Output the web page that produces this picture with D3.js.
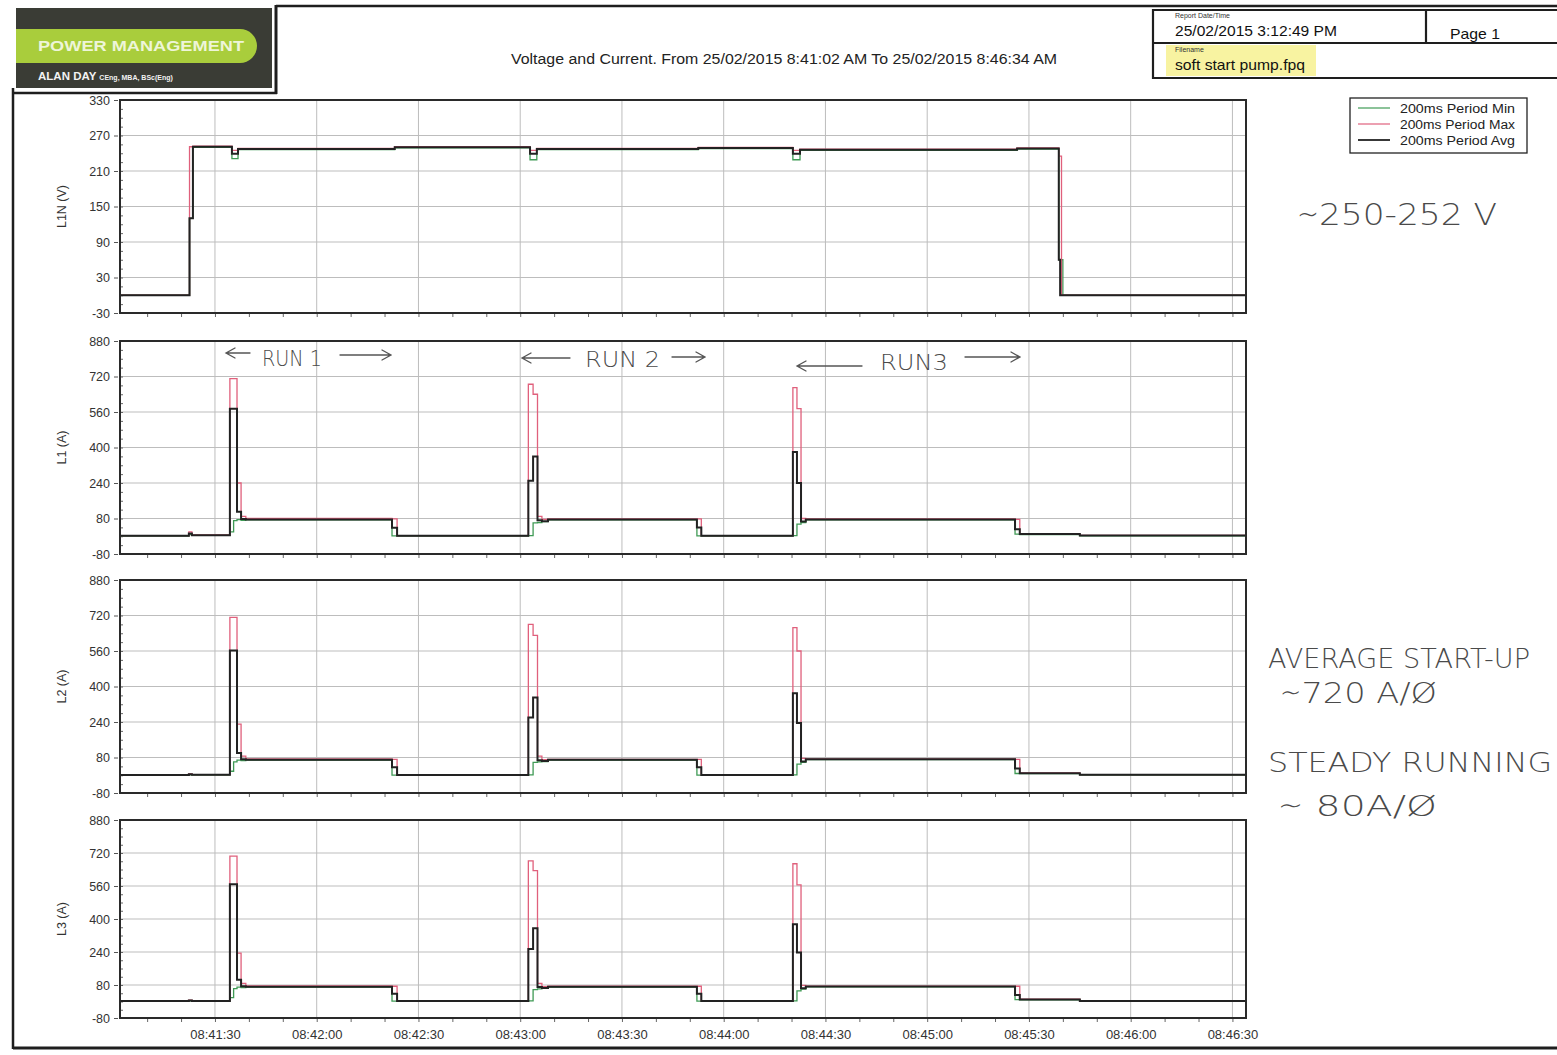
<!DOCTYPE html>
<html>
<head>
<meta charset="utf-8">
<script src="https://cdn.jsdelivr.net/npm/d3@7"></script>
<style>
  body { margin: 0; background: #fff; }
  svg { display: block; }
  text { font-family: "Liberation Sans", Arial, sans-serif; }
  .hand { font-family: "DejaVu Sans", sans-serif; font-weight: 200; fill: #4a4a4a; }
</style>
</head>
<body>
<svg id="chart" width="1557" height="1055"></svg>
<script>
// ---- data (seconds after 08:41:02) ----
var voltTimes = [0, 20.5, 21.5, 33.0, 34.8, 81.0, 120.9, 122.9, 170.5, 198.4, 200.5, 264.5, 276.8, 277.2, 277.6, 278.0, 332];
var voltAvg   = [0, 130, 251, 239, 247, 250, 239, 247, 249, 239, 246, 248, 60, 0, 0, 0, 0];
var voltMax   = [0, 251, 252, 245, 248, 251, 245, 248, 250, 245, 247, 249, 235, 235, 0, 0, 0];
var voltMin   = [0, 130, 250, 231, 246, 249, 229, 246, 248, 229, 245, 247, 60, 60, 60, 0, 0];

var ampTimes = [0, 20.3, 21.2, 32.4, 33.5, 34.5, 35.7, 37.1, 80.2, 81.7, 120.4, 121.8, 123.1, 124.4, 126.2, 170.1, 171.4, 198.4, 199.6, 200.8, 202.2, 263.9, 265.3, 283, 332];

var l1Avg = [2, 12, 5, 575, 575, 110, 78, 76, 38, 2, 250, 360, 72, 68, 76, 40, 2, 380, 240, 66, 76, 32, 10, 3, 3];
var l1Max = [3, 20, 6, 710, 710, 240, 90, 80, 78, 3, 685, 640, 90, 76, 78, 78, 3, 670, 575, 80, 78, 76, 12, 4, 4];
var l1Min = [1, 8, 4, 20, 70, 75, 72, 74, 2, 1, 3, 60, 62, 66, 74, 2, 1, 3, 55, 62, 74, 10, 8, 2, 2];

var l2Avg = [1, 4, 2, 562, 562, 100, 72, 70, 36, 1, 260, 350, 68, 64, 70, 36, 1, 370, 235, 62, 72, 30, 9, 2, 2];
var l2Max = [2, 6, 3, 712, 712, 230, 86, 74, 72, 2, 680, 630, 86, 70, 72, 72, 2, 665, 560, 76, 74, 72, 11, 3, 3];
var l2Min = [0, 2, 1, 18, 60, 68, 66, 68, 1, 0, 2, 58, 60, 62, 68, 1, 0, 2, 50, 58, 70, 8, 7, 1, 1];

var l3Avg = [2, 5, 3, 568, 568, 105, 74, 72, 38, 2, 255, 355, 70, 66, 72, 38, 2, 375, 238, 64, 73, 32, 10, 3, 3];
var l3Max = [3, 7, 4, 705, 705, 235, 88, 76, 74, 3, 682, 635, 88, 72, 74, 74, 3, 668, 565, 78, 75, 74, 12, 4, 4];
var l3Min = [1, 3, 2, 19, 62, 70, 68, 70, 2, 1, 3, 58, 61, 64, 70, 2, 1, 3, 52, 60, 71, 9, 8, 2, 2];

var voltTicks = [-30, 30, 90, 150, 210, 270, 330];
var ampTicks = [-80, 80, 240, 400, 560, 720, 880];
var seriesNames = ["200ms Period Min", "200ms Period Max", "200ms Period Avg"];

var T0 = new Date(2015, 1, 25, 8, 41, 2);
var T1 = new Date(2015, 1, 25, 8, 46, 34);

// ---- drawing ----
var svg = d3.select("#chart");
var colMin = "#3f9a55", colMax = "#e0607c", colAvg = "#222";

function toDate(s){
	return new Date(T0.getTime() + s * 1000);
}

var xScale = d3.scaleTime().domain([T0, T1]).range([120, 1246]);

var panels = [
	{ title: "L1N (V)", top: 100, bottom: 313, ticks: voltTicks, times: voltTimes, min: voltMin, max: voltMax, avg: voltAvg },
	{ title: "L1 (A)", top: 341, bottom: 554, ticks: ampTicks, times: ampTimes, min: l1Min, max: l1Max, avg: l1Avg },
	{ title: "L2 (A)", top: 580, bottom: 793, ticks: ampTicks, times: ampTimes, min: l2Min, max: l2Max, avg: l2Avg },
	{ title: "L3 (A)", top: 820, bottom: 1018, ticks: ampTicks, times: ampTimes, min: l3Min, max: l3Max, avg: l3Avg }
];

panels.forEach(function(p, i){
	var lo = p.ticks[0], hi = p.ticks[p.ticks.length - 1];
	var yScale = d3.scaleLinear().domain([lo, hi]).range([p.bottom, p.top]);
	var g = svg.append("g");

	// grid
	g.selectAll(".hg").data(p.ticks.slice(1, -1)).enter().append("line")
		.attr("x1", 120).attr("x2", 1246)
		.attr("y1", function(d){ return yScale(d); }).attr("y2", function(d){ return yScale(d); })
		.attr("stroke", "#bdbdbd").attr("stroke-width", 1);
	g.selectAll(".vg").data(xScale.ticks(d3.timeSecond.every(30))).enter().append("line")
		.attr("x1", function(d){ return xScale(d); }).attr("x2", function(d){ return xScale(d); })
		.attr("y1", p.top).attr("y2", p.bottom)
		.attr("stroke", "#bdbdbd").attr("stroke-width", 1);

	// minor ticks
	var step = (p.ticks[1] - p.ticks[0]) / 4;
	var minorY = d3.range(lo, hi + 0.1, step);
	g.append("g").attr("transform", "translate(120,0)")
		.call(d3.axisLeft(yScale).tickValues(minorY).tickSize(-3).tickFormat(""))
		.call(function(a){ a.select(".domain").remove(); a.selectAll("line").attr("stroke", "#666"); });
	g.append("g").attr("transform", "translate(0," + p.bottom + ")")
		.call(d3.axisBottom(xScale).ticks(d3.timeSecond.every(10)).tickSize(4).tickFormat(""))
		.call(function(a){ a.select(".domain").remove(); a.selectAll("line").attr("stroke", "#666"); });

	// y axis labels
	var yAxis = g.append("g").attr("transform", "translate(118,0)")
		.call(d3.axisLeft(yScale).tickValues(p.ticks).tickSize(4).tickPadding(4)
			.tickFormat(function(d){ return String(d); }));
	yAxis.select(".domain").remove();
	yAxis.selectAll("line").attr("stroke", "#555");
	yAxis.selectAll("text").attr("font-size", 12.5).attr("fill", "#333")
		.style("font-family", "Liberation Sans, Arial, sans-serif");

	g.append("text")
		.attr("transform", "translate(66," + ((p.top + p.bottom) / 2) + ") rotate(-90)")
		.attr("text-anchor", "middle").attr("font-size", 12.5).attr("fill", "#333")
		.text(p.title);

	// series
	function pts(vals){
		return p.times.map(function(t, k){ return [toDate(t), vals[k]]; });
	}
	var line = d3.line()
		.x(function(d){ return xScale(d[0]); })
		.y(function(d){ return yScale(d[1]); })
		.curve(d3.curveStepAfter);

	g.append("path").attr("d", line(pts(p.min))).attr("fill", "none")
		.attr("stroke", colMin).attr("stroke-width", 1.3);
	g.append("path").attr("d", line(pts(p.max))).attr("fill", "none")
		.attr("stroke", colMax).attr("stroke-width", 1.3);
	g.append("path").attr("d", line(pts(p.avg))).attr("fill", "none")
		.attr("stroke", colAvg).attr("stroke-width", 2);

	// frame
	g.append("rect").attr("x", 120).attr("y", p.top)
		.attr("width", 1126).attr("height", p.bottom - p.top)
		.attr("fill", "none").attr("stroke", "#2a2a2a").attr("stroke-width", 2);

	if(i == panels.length - 1){
		var xAxis = g.append("g").attr("transform", "translate(0," + (p.bottom + 2) + ")")
			.call(d3.axisBottom(xScale).ticks(d3.timeSecond.every(30)).tickSize(0).tickPadding(10)
				.tickFormat(d3.timeFormat("%H:%M:%S")));
		xAxis.select(".domain").remove();
		xAxis.selectAll("text").attr("font-size", 13).attr("fill", "#333")
			.style("font-family", "Liberation Sans, Arial, sans-serif");
	}
});

// ---- page furniture ----
var border = "#1e1e1e";
svg.append("line").attr("x1", 276).attr("x2", 1557).attr("y1", 6).attr("y2", 6).attr("stroke", border).attr("stroke-width", 2.5);
svg.append("line").attr("x1", 276).attr("x2", 276).attr("y1", 5).attr("y2", 94).attr("stroke", border).attr("stroke-width", 3);
svg.append("line").attr("x1", 13).attr("x2", 277).attr("y1", 93).attr("y2", 93).attr("stroke", border).attr("stroke-width", 2.5);
svg.append("line").attr("x1", 13).attr("x2", 13).attr("y1", 88).attr("y2", 1049).attr("stroke", border).attr("stroke-width", 2.5);
svg.append("line").attr("x1", 13).attr("x2", 1557).attr("y1", 1048).attr("y2", 1048).attr("stroke", border).attr("stroke-width", 3);

// logo
svg.append("rect").attr("x", 16).attr("y", 8).attr("width", 256).attr("height", 80).attr("fill", "#3a3c35");
svg.append("path")
	.attr("d", "M16,29 H240 A17,17 0 0 1 240,63 H16 Z")
	.attr("fill", "#a9cd3c");
svg.append("text").attr("x", 38).attr("y", 51).attr("font-size", 14).attr("font-weight", "bold")
	.attr("fill", "#eef5d8").attr("textLength", 206).attr("lengthAdjust", "spacingAndGlyphs")
	.text("POWER MANAGEMENT");
var who = svg.append("text").attr("x", 38).attr("y", 80).attr("fill", "#f2f2f2").attr("font-weight", "bold");
who.append("tspan").attr("font-size", 11.5).text("ALAN DAY ");
who.append("tspan").attr("font-size", 7).text("CEng, MBA, BSc(Eng)");

// title
svg.append("text").attr("x", 511).attr("y", 64)
	.attr("font-size", 14).attr("fill", "#222")
	.attr("textLength", 546).attr("lengthAdjust", "spacingAndGlyphs")
	.text("Voltage and Current. From 25/02/2015 8:41:02 AM To 25/02/2015 8:46:34 AM");

// report box
svg.append("rect").attr("x", 1166).attr("y", 45).attr("width", 150).attr("height", 31).attr("fill", "#f6f08a").attr("opacity", 0.8);
svg.append("path").attr("d", "M1557,10 H1153 V78 H1557 M1153,43 H1557 M1426,10 V43")
	.attr("fill", "none").attr("stroke", border).attr("stroke-width", 2.2);
svg.append("text").attr("x", 1175).attr("y", 18).attr("font-size", 7).attr("fill", "#333").text("Report Date/Time");
svg.append("text").attr("x", 1175).attr("y", 36).attr("font-size", 15).attr("fill", "#111")
	.attr("textLength", 162).attr("lengthAdjust", "spacingAndGlyphs").text("25/02/2015 3:12:49 PM");
svg.append("text").attr("x", 1450).attr("y", 39).attr("font-size", 15).attr("fill", "#111")
	.attr("textLength", 50).attr("lengthAdjust", "spacingAndGlyphs").text("Page 1");
svg.append("text").attr("x", 1175).attr("y", 52).attr("font-size", 7).attr("fill", "#333").text("Filename");
svg.append("text").attr("x", 1175).attr("y", 70).attr("font-size", 14.5).attr("fill", "#111")
	.attr("textLength", 130).attr("lengthAdjust", "spacingAndGlyphs").text("soft start pump.fpq");

// legend
svg.append("rect").attr("x", 1350).attr("y", 98).attr("width", 177).attr("height", 55)
	.attr("fill", "#fff").attr("stroke", "#222").attr("stroke-width", 1.3);
var legColors = [colMin, colMax, colAvg];
seriesNames.forEach(function(n, k){
	var y = 108 + k * 16;
	svg.append("line").attr("x1", 1358).attr("x2", 1390).attr("y1", y).attr("y2", y)
		.attr("stroke", legColors[k]).attr("stroke-width", k == 2 ? 1.8 : 1.2);
	svg.append("text").attr("x", 1400).attr("y", y + 4.5).attr("font-size", 12.5).attr("fill", "#222")
		.attr("textLength", 115).attr("lengthAdjust", "spacingAndGlyphs").text(n);
});

// handwritten notes
function hand(x, y, size, width, txt){
	svg.append("text").attr("class", "hand").attr("x", x).attr("y", y)
		.attr("font-size", size).attr("textLength", width).attr("lengthAdjust", "spacingAndGlyphs")
		.text(txt);
}
function arrow(x1, x2, y){
	var d = x2 > x1 ? 1 : -1;
	svg.append("path")
		.attr("d", "M" + x1 + "," + y + " L" + x2 + "," + y + " M" + (x2 - d * 9) + "," + (y - 5) + " L" + x2 + "," + y + " L" + (x2 - d * 9) + "," + (y + 5))
		.attr("fill", "none").attr("stroke", "#555").attr("stroke-width", 1.3).attr("stroke-linecap", "round");
}
hand(1297, 225, 30, 200, "∼250-252 V");
hand(262, 366, 21, 60, "RUN 1"); arrow(250, 226, 353); arrow(340, 391, 355);
hand(585, 367, 21, 75, "RUN 2"); arrow(570, 522, 358); arrow(672, 705, 357);
hand(880, 370, 21, 68, "RUN3"); arrow(862, 797, 366); arrow(965, 1020, 357);
hand(1268, 668, 27, 262, "AVERAGE START-UP");
hand(1280, 703, 29, 157, "∼720 A/Ø");
hand(1268, 772, 27, 284, "STEADY RUNNING");
hand(1278, 816, 29, 159, "∼ 80A/Ø");
</script>
</body>
</html>
